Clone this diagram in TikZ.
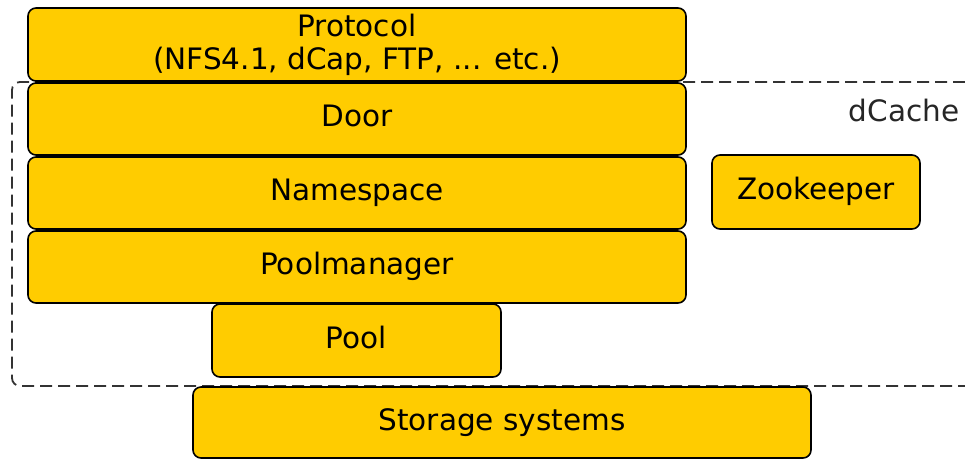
\documentclass[tikz,border=0pt]{standalone}
\usepackage{fontspec}
\setmainfont{DejaVu Sans}
\definecolor{boxfill}{HTML}{FFCC00}
\definecolor{dashgray}{HTML}{333333}
\begin{document}
\begin{tikzpicture}[x=1pt,y=-1pt,
  layerbase/.style={draw=black, line width=1.6pt, fill=boxfill, rounded corners=8pt,
    inner sep=0pt, align=center, font=\fontsize{29.5}{33}\selectfont},
  layer/.style={layerbase, text height=22pt, text depth=7pt},
  grouplabel/.style={inner sep=0pt, font=\fontsize{29.5}{33}\selectfont, text=black!85,
    text height=22pt, text depth=7pt}]
\useasboundingbox (0,0) rectangle (965,459);
% dCache dashed container (right edge beyond the picture)
\coordinate (dtr) at (965,82);
\coordinate (dbr) at (965,386);
\draw[dashgray, line width=1.8pt, dash pattern=on 12pt off 6pt, rounded corners=8pt]
  (dtr) -- (12,82) -- (12,386) -- (dbr);
\node[grouplabel] (dcache) at (904,114) {dCache};
\node[layerbase, minimum width=658pt, minimum height=73pt] (protocol) at (357,44.5)
  {Protocol\\(NFS4.1, dCap, FTP, ... etc.)};
\node[layer, minimum width=658pt, minimum height=72pt] (door) at (357,119) {Door};
\node[layer, minimum width=658pt, minimum height=72pt] (namespace) at (357,193) {Namespace};
\node[layer, minimum width=658pt, minimum height=72pt] (poolmanager) at (357,267) {Poolmanager};
\node[layer, minimum width=289pt, minimum height=73pt] (pool) at (356.5,340.5) {Pool};
\node[layer, minimum width=618pt, minimum height=71pt] (storage) at (502,422.5) {Storage systems};
\node[layer, minimum width=208pt, minimum height=74pt] (zookeeper) at (816,192) {Zookeeper};
\end{tikzpicture}
\end{document}
